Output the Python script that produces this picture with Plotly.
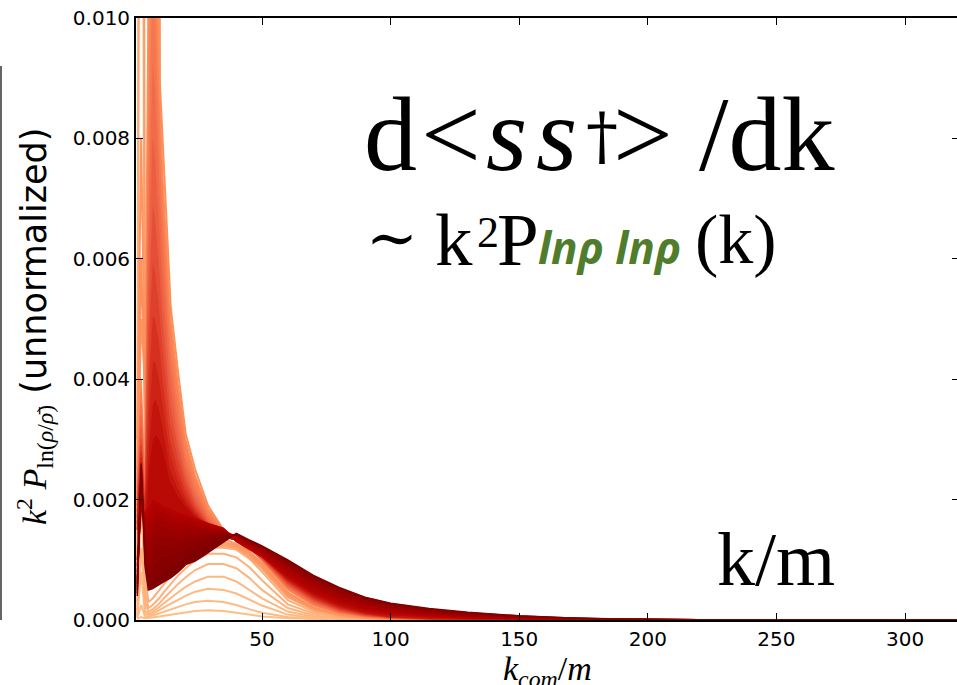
import plotly.graph_objects as go
from plotly.colors import sample_colorscale

# wavenumber grid k_com/m
k_grid = [1.5, 3.0, 4.5, 5.8, 7.3, 8.7, 10.2, 11.6, 14.5, 17.4, 20.3, 24.0, 29.0,
          35.0, 40.0, 45.0, 50.0, 60.0, 70.0, 80.0, 90.0, 100.0, 115.0, 130.0,
          150.0, 170.0, 190.0, 220.0, 260.0, 320.0]

# spectra in units of 1e-3, earliest first
light_curves = [
    [0.02,0.05,0.03,0.03,0.04,0.05,0.06,0.07,0.09,0.11,0.13,0.15,0.16, 0.15,0.12,0.09,0.06,0.03,0.012,0.005,0.002,0,0,0,0,0,0,0,0,0],
    [0.03,0.25,0.06,0.05,0.07,0.09,0.11,0.13,0.18,0.22,0.26,0.30,0.32, 0.30,0.25,0.18,0.12,0.05,0.02,0.008,0.003,0.001,0,0,0,0,0,0,0,0],
    [0.05,0.8,0.1,0.08,0.1,0.13,0.16,0.2,0.27,0.34,0.4,0.47,0.52, 0.5,0.44,0.34,0.24,0.09,0.035,0.013,0.005,0.002,0,0,0,0,0,0,0,0],
    [0.08,2.5,0.15,0.1,0.13,0.17,0.22,0.27,0.37,0.46,0.55,0.64,0.72, 0.72,0.64,0.5,0.36,0.14,0.055,0.02,0.008,0.003,0.001,0,0,0,0,0,0,0],
    [0.15,1.2,0.3,0.14,0.17,0.22,0.28,0.35,0.48,0.6,0.71,0.83,0.93, 0.93,0.86,0.7,0.5,0.2,0.08,0.03,0.012,0.005,0.002,0,0,0,0,0,0,0],
    [0.3,2.0,0.5,0.2,0.24,0.3,0.37,0.45,0.6,0.74,0.86,0.99,1.1, 1.1,1.04,0.88,0.66,0.26,0.11,0.045,0.018,0.008,0.003,0.001,0,0,0,0,0,0],
    [0.6,25.0,0.8,0.3,0.35,0.42,0.5,0.58,0.74,0.88,1.0,1.12,1.2, 1.2,1.17,1.02,0.8,0.33,0.14,0.06,0.025,0.011,0.004,0.002,0.001,0,0,0,0,0],
    [1.5,35.0,1.2,0.5,0.6,0.8,0.9,0.85,0.9,1.0,1.08,1.16,1.21, 1.22,1.2,1.08,0.88,0.4,0.18,0.08,0.035,0.015,0.006,0.002,0.001,0,0,0,0,0],
]

burst_curves = [
    [1.0,3.0,2.0,1.0,6.0,12.0,4.0,1.8,1.0,0.9,0.95,1.05,1.2, 1.25,1.2,1.05,0.85,0.38,0.17,0.075,0.033,0.014,0.006,0.002,0.001,0,0,0,0,0],
    [14.0,40.0,3.0,2.5,14.0,25.0,6.0,3.0,1.6,1.2,1.1,1.1,1.2, 1.27,1.22,1.08,0.88,0.4,0.18,0.08,0.036,0.016,0.006,0.003,0.001,0,0,0,0,0],
    [2.0,5.0,4.0,5.0,25.0,40.0,7.5,5.0,2.8,2.0,1.6,1.4,1.35, 1.3,1.24,1.1,0.9,0.42,0.19,0.085,0.038,0.017,0.007,0.003,0.001,0,0,0,0,0],
    [3.0,8.0,4.0,8.0,35.0,45.0,8.5,6.5,4.0,3.0,2.3,1.9,1.6, 1.35,1.26,1.12,0.92,0.44,0.2,0.09,0.04,0.018,0.007,0.003,0.001,0,0,0,0,0],
    [2.5,6.0,3.5,10.0,30.0,35.0,9.0,7.7,5.2,4.1,3.1,2.5,1.9, 1.5,1.32,1.14,0.94,0.46,0.21,0.095,0.043,0.019,0.008,0.003,0.001,0,0,0,0,0],
]

decay_curves = [
    [2.4,4.0,2.0,9.0,14.0,12.0,8.6,7.2,5.0,3.9,3.0,2.4,1.85, 1.5,1.38,1.2,0.98,0.5,0.24,0.11,0.05,0.022,0.008,0.003,0.001,0,0,0,0,0],
    [2.3,3.8,2.0,8.0,11.0,10.0,8.0,6.7,4.6,3.6,2.8,2.25,1.78, 1.46,1.36,1.2,0.99,0.52,0.255,0.12,0.055,0.025,0.009,0.004,0.001,0,0,0,0,0],
    [2.2,3.6,1.9,7.0,9.5,8.8,7.3,6.2,4.3,3.35,2.65,2.15,1.72, 1.43,1.35,1.2,1.0,0.54,0.27,0.13,0.06,0.028,0.011,0.004,0.001,0,0,0,0,0],
    [2.1,3.4,1.8,6.2,8.2,7.7,6.6,5.6,3.95,3.1,2.5,2.05,1.67, 1.41,1.34,1.2,1.01,0.56,0.29,0.14,0.066,0.031,0.012,0.005,0.002,0,0,0,0,0],
    [2.0,3.2,1.8,5.4,7.0,6.7,5.9,5.0,3.6,2.9,2.38,1.97,1.63, 1.4,1.33,1.2,1.02,0.58,0.31,0.15,0.073,0.035,0.014,0.006,0.002,0.001,0,0,0,0],
    [1.9,3.0,1.7,4.7,6.0,5.8,5.2,4.5,3.3,2.7,2.26,1.9,1.6, 1.39,1.33,1.2,1.03,0.6,0.33,0.165,0.08,0.04,0.016,0.007,0.002,0.001,0,0,0,0],
    [1.8,2.9,1.7,4.0,5.1,5.0,4.6,4.0,3.0,2.5,2.15,1.84,1.57, 1.39,1.33,1.21,1.04,0.62,0.35,0.18,0.09,0.045,0.019,0.008,0.003,0.001,0,0,0,0],
    [1.7,2.8,1.6,3.4,4.3,4.3,4.0,3.6,2.75,2.35,2.05,1.8,1.55, 1.39,1.33,1.21,1.05,0.64,0.37,0.195,0.1,0.05,0.022,0.01,0.003,0.001,0,0,0,0],
    [1.6,2.7,1.6,2.9,3.6,3.7,3.5,3.2,2.5,2.2,1.97,1.76,1.53, 1.39,1.33,1.21,1.06,0.66,0.39,0.21,0.11,0.056,0.025,0.011,0.004,0.001,0,0,0,0],
    [1.5,2.6,1.5,2.5,3.0,3.1,3.0,2.85,2.3,2.07,1.9,1.72,1.51, 1.39,1.33,1.22,1.07,0.68,0.41,0.23,0.12,0.062,0.028,0.013,0.005,0.002,0.001,0,0,0],
]

late_curves = [
    [1.0,1.8,1.8,1.9,2.0,2.0,1.95,1.92,1.86,1.8,1.76,1.7,1.6, 1.52,1.3,1.17,1.05,0.7,0.44,0.27,0.16,0.1,0.055,0.03,0.013,0.005,0.002,0,0,0],
    [0.9,1.9,1.7,1.75,1.9,1.95,1.9,1.86,1.8,1.76,1.73,1.68,1.6, 1.52,1.32,1.2,1.08,0.74,0.48,0.3,0.18,0.12,0.068,0.038,0.017,0.007,0.003,0.001,0,0],
    [0.8,2.0,1.6,1.6,1.75,1.85,1.82,1.78,1.72,1.7,1.67,1.63,1.57, 1.5,1.34,1.22,1.1,0.78,0.52,0.33,0.21,0.14,0.082,0.048,0.022,0.01,0.004,0.001,0,0],
    [0.7,2.1,1.5,1.45,1.6,1.72,1.72,1.68,1.62,1.6,1.6,1.57,1.53, 1.48,1.36,1.24,1.13,0.82,0.56,0.37,0.24,0.16,0.097,0.058,0.028,0.013,0.005,0.002,0,0],
    [0.65,2.2,1.4,1.3,1.45,1.58,1.6,1.56,1.52,1.5,1.52,1.52,1.5, 1.47,1.38,1.26,1.15,0.85,0.6,0.41,0.27,0.19,0.115,0.07,0.035,0.017,0.007,0.002,0,0],
    [0.6,2.3,1.3,1.1,1.25,1.4,1.45,1.42,1.4,1.4,1.43,1.45,1.46, 1.46,1.39,1.28,1.17,0.89,0.63,0.44,0.3,0.21,0.13,0.083,0.043,0.021,0.009,0.003,0.001,0],
    [0.55,2.4,1.2,0.9,1.05,1.2,1.25,1.25,1.25,1.28,1.33,1.38,1.43, 1.45,1.4,1.3,1.19,0.92,0.67,0.48,0.33,0.23,0.15,0.097,0.051,0.026,0.011,0.004,0.001,0],
    [0.5,2.5,1.1,0.75,0.85,0.95,1.02,1.05,1.08,1.13,1.2,1.28,1.36, 1.42,1.41,1.31,1.2,0.95,0.7,0.5,0.35,0.25,0.165,0.11,0.059,0.03,0.013,0.004,0.001,0],
    [0.45,2.55,1.0,0.6,0.65,0.72,0.78,0.82,0.88,0.97,1.07,1.15,1.25, 1.37,1.42,1.32,1.22,0.98,0.72,0.52,0.37,0.27,0.18,0.12,0.065,0.033,0.014,0.005,0.001,0],
    [0.4,2.6,0.9,0.5,0.52,0.56,0.6,0.63,0.7,0.8,0.92,0.98,1.12, 1.3,1.44,1.33,1.23,1.0,0.74,0.54,0.38,0.28,0.19,0.13,0.07,0.035,0.015,0.005,0.001,0],
]

y_ticks = [0.0, 0.002, 0.004, 0.006, 0.008, 0.010]
x_ticks = [50, 100, 150, 200, 250, 300]

fig = go.Figure()

# (curves, colour-map start, colour-map end, filled band, line width)
groups = [
    (light_curves, 0.36, 0.42, False, 2.0),
    (burst_curves, 0.44, 0.49, False, 2.0),
    (decay_curves, 0.50, 0.82, True, 1.5),
    (late_curves, 0.85, 1.0, True, 1.5),
]
for gi, (curves, c0, c1, filled, lw) in enumerate(groups):
    n = len(curves)
    for i, vals in enumerate(curves):
        t = c0 + (c1 - c0) * (i / (n - 1) if n > 1 else 0)
        col = sample_colorscale('OrRd', [t])[0]
        fill = 'none'
        if filled and not (gi == 2 and i == 0):
            fill = 'tonexty'
        fig.add_trace(go.Scatter(
            x=k_grid, y=[v * 1e-3 for v in vals], mode='lines',
            line=dict(color=col, width=lw), fill=fill, fillcolor=col,
            hoverinfo='skip', showlegend=False))

# helper trace for the right-hand ticks
fig.add_trace(go.Scatter(x=[], y=[], yaxis='y2', showlegend=False))

axis_font = dict(family='DejaVu Sans', size=20, color='black')
fig.update_layout(
    width=957, height=685,
    margin=dict(l=136, r=0, t=18, b=65),
    plot_bgcolor='white', paper_bgcolor='white',
    showlegend=False,
    xaxis=dict(range=[1.0, 320.2], tickvals=x_ticks, ticks='inside', ticklen=7,
               tickwidth=1.2, tickcolor='black', showline=True, linecolor='black',
               linewidth=1.8, mirror='ticks', showgrid=False, zeroline=False,
               tickfont=axis_font),
    yaxis=dict(range=[0, 0.010], tickvals=y_ticks, tickformat='.3f', ticks='inside',
               ticklen=7, tickwidth=1.2, tickcolor='black', showline=True,
               linecolor='black', linewidth=1.8, mirror=False, showgrid=False,
               zeroline=False, tickfont=axis_font),
    yaxis2=dict(range=[0, 0.010], tickvals=y_ticks, overlaying='y', side='right',
                ticks='inside', ticklen=5, tickwidth=1.2, tickcolor='black',
                showticklabels=False, showline=False, showgrid=False, zeroline=False),
)

# screen pixel -> paper coordinates (plot area spans x 136..957, y 18..620)
def px_x(px):
    return (px - 136) / 821.0

def px_y(py):
    return (620 - py) / 602.0

serif = 'Liberation Serif'
big = dict(family=serif, size=106, color='black')
mid = dict(family=serif, size=75, color='black')
ann = [
    dict(text='d', x=px_x(362), y=px_y(134), font=big),
    dict(text='&lt;', x=px_x(419), y=px_y(134), font=big),
    dict(text='<i>s\u200as</i>', x=px_x(484), y=px_y(134), font=big),
    dict(text='†', x=px_x(584), y=px_y(136), font=dict(family='DejaVu Serif', size=64, color='black')),
    dict(text='&gt;', x=px_x(611), y=px_y(134), font=big),
    dict(text='/dk', x=px_x(697), y=px_y(134), font=big),
    dict(text='∼', x=px_x(364), y=px_y(238), font=dict(family='DejaVu Serif', size=62, color='black')),
    dict(text='k', x=px_x(433), y=px_y(239), font=mid),
    dict(text='2', x=px_x(475), y=px_y(232), font=dict(family=serif, size=44, color='black')),
    dict(text='P', x=px_x(495), y=px_y(239), font=mid),
    dict(text='<b><i>lnρ lnρ</i></b>', x=px_x(536), y=px_y(247),
         font=dict(family='Open Sans', size=44, color='#4f7d2c')),
    dict(text='(k)', x=px_x(693), y=px_y(240), font=dict(family=serif, size=70, color='black')),
    dict(text='k/m', x=px_x(715), y=px_y(559), font=dict(family=serif, size=76, color='black')),
]
for a in ann:
    a.update(xref='paper', yref='paper', showarrow=False, xanchor='left', yanchor='middle')
    fig.add_annotation(**a)

fig.add_annotation(text='<i>k</i><sub><i>com</i></sub>/<i>m</i>', xref='paper', yref='paper',
                   x=px_x(547), y=px_y(671), showarrow=False, xanchor='center', yanchor='middle',
                   font=dict(family=serif, size=34, color='black'))
fig.add_annotation(
    text='<span style="font-family:Liberation Serif;font-size:34px"><i>k</i><sup>2</sup> <i>P</i><sub>ln(<i>ρ</i>/<i>ρ̄</i>)</sub></span> (unnormalized)',
    xref='paper', yref='paper', x=px_x(34), y=px_y(327), textangle=-90,
    showarrow=False, xanchor='center', yanchor='middle',
    font=dict(family='DejaVu Sans', size=35, color='black'))

# edge line at far left of the image
fig.add_shape(type='line', xref='paper', yref='paper', x0=px_x(1), x1=px_x(1),
              y0=px_y(620), y1=px_y(66), line=dict(color='#333333', width=1.5))

fig.write_html('out.html', config={'displayModeBar': False},
               post_script="document.body.style.margin='0';document.body.style.overflow='hidden';")
